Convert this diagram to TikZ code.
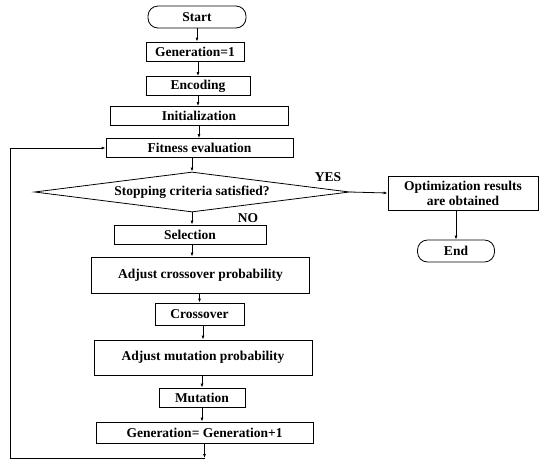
\documentclass[tikz,border=0pt]{standalone}
\usepackage{fontspec}
\setmainfont{Liberation Serif}
\usetikzlibrary{shapes.geometric,arrows.meta}
\begin{document}
\begin{tikzpicture}[x=1pt,y=-1pt,
  every node/.style={font=\bfseries\fontsize{13.5}{15}\selectfont, inner sep=0pt},
  box/.style={draw, thick, rectangle, minimum height=#1},
  box/.default=19,
  arr/.style={-{Latex[length=4pt,width=3pt]}, thick}]
\useasboundingbox (0,0) rectangle (543,459);
\node[draw, thick, rounded corners=10pt, minimum width=98, minimum height=22] (start) at (197,17) {Start};
\node[box, minimum width=98] (gen) at (195,51.5) {Generation=1};
\node[box, minimum width=104] (enc) at (198,86) {Encoding};
\node[box, minimum width=178] (init) at (199,116) {Initialization};
\node[box, minimum width=187] (fit) at (199.5,148) {Fitness evaluation};
\node[draw, thick, diamond, aspect=7.9, minimum width=315, minimum height=40] (dia) at (192,192) {Stopping criteria satisfied?};
\node[box=34, minimum width=150, align=center] (opt) at (463,193) {Optimization results\\are obtained};
\node[draw, thick, rounded corners=10pt, minimum width=77, minimum height=22] (end) at (456,251) {End};
\node[box, minimum width=152] (sel) at (190,234.5) {Selection};
\node[box=36, minimum width=218] (acp) at (200.5,275) {Adjust crossover probability};
\node[box=22, minimum width=89] (cro) at (199.5,314) {Crossover};
\node[box=35, minimum width=218] (amp) at (203,357.5) {Adjust mutation probability};
\node[box, minimum width=86] (mut) at (202,397.5) {Mutation};
\node[box=21, minimum width=217] (gen2) at (204.5,432.5) {Generation= Generation+1};
\node (yes) at (328,177) {YES};
\node (no) at (248,218) {NO};
\coordinate (b) at (204.5,458);
\coordinate (bl) at (10,458);
\coordinate (tl) at (10,148);
\draw[arr] (start) -- (start|-gen.north);
\draw[arr] (gen.south-|enc) -- (enc);
\draw[arr] (enc.south) -- (enc.south|-init.north);
\draw[arr] (init.south) -- (init.south|-fit.north);
\draw[arr] (fit.south-|dia.north) -- (dia.north);
\draw[arr] (dia.south) -- (dia.south|-sel.north);
\draw[arr] (dia.south|-sel.south) -- (dia.south|-acp.north);
\draw[arr] (cro.north|-acp.south) -- (cro.north);
\draw[arr] (cro.south) -- (cro.south-|amp.north) -- (amp.north);
\draw[arr] (mut.north|-amp.south) -- (mut.north);
\draw[arr] (mut.south) -- (mut.south|-gen2.north);
\draw[arr] (gen2.south) -- (b);
\draw[arr] (b) -- (bl) -- (tl) -- (fit.west);
\draw[arr] (dia.east) -- (opt.west);
\draw[arr] (opt.south-|end) -- (end.north);
\end{tikzpicture}
\end{document}
